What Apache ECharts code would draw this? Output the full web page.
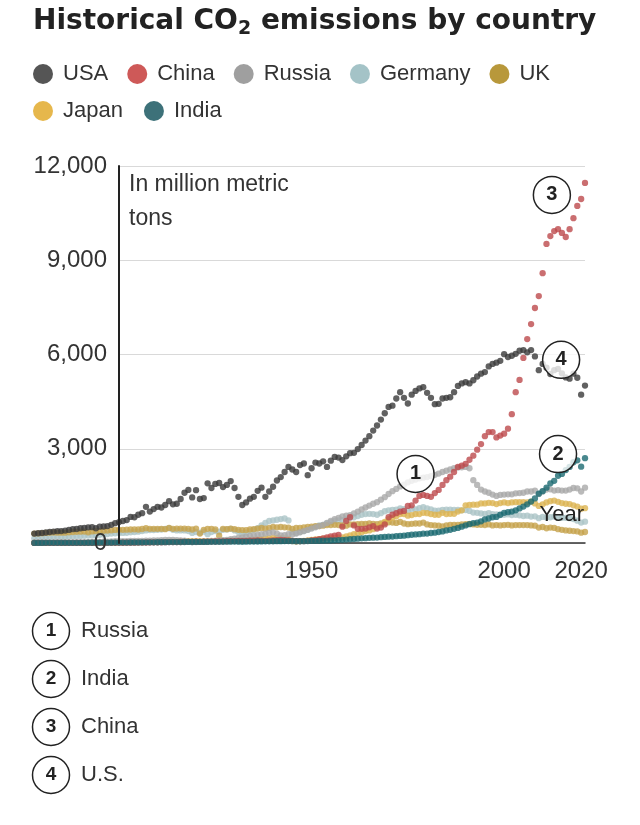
<!DOCTYPE html>
<html><head><meta charset="utf-8">
<script src="https://cdn.jsdelivr.net/npm/echarts@6/dist/echarts.min.js"></script>
<style>html,body{margin:0;padding:0;background:#fff}#c{width:640px;height:825px}</style>
</head><body><div id="c"></div>
<script>
// ---- data (million metric tons), one value per year from START_YEAR to END_YEAR ----
const START_YEAR = 1878;
const END_YEAR = 2021;
const countries = ['USA', 'China', 'Russia', 'Germany', 'UK', 'Japan', 'India'];

const usa = [
  300,310,320,335,350,365,375,380,395,415,440,445,470,480,500,505,470,520,525,540,580,630,
  665,700,730,830,820,900,950,1150,1000,1080,
  1150,1130,1210,1330,1230,1250,1400,1600,1690,1450,
  1680,1400,1430,1900,1750,1880,1910,1780,1850,1970,
  1750,1470,1210,1290,1410,1470,1660,1760,1470,1640,
  1790,1990,2100,2260,2420,2340,2260,2480,2530,2160,
  2380,2560,2530,2600,2420,2620,2740,2720,2640,2760,
  2860,2870,2990,3120,3260,3400,3580,3740,3930,4130,
  4330,4370,4600,4800,4620,4440,4720,4840,4920,4960,
  4780,4620,4420,4430,4600,4620,4640,4800,5000,5080,
  5120,5080,5180,5300,5390,5440,5620,5700,5740,5800,
  6010,5920,5960,6020,6120,6140,6070,6140,5940,5500,
  5700,5580,5380,5500,5540,5400,5270,5230,5390,5260,
  4720,5010
];
const china = [
  1,1,1,1,1,1,2,2,2,2,2,2,3,3,3,3,4,4,4,5,5,6,
  7,8,9,10,11,12,14,16,18,20,
  22,24,26,28,30,30,32,34,36,36,
  40,38,40,42,46,48,50,52,56,60,
  62,64,66,70,72,76,80,78,70,72,
  80,90,96,90,80,70,60,60,60,70,
  80,100,120,150,180,210,230,260,520,700,
  820,560,450,450,460,500,540,460,490,590,
  820,900,950,1000,1020,1180,1200,1350,1500,1530,
  1500,1470,1590,1690,1850,2000,2110,2260,2420,2460,
  2520,2650,2780,2970,3150,3400,3530,3530,3360,3420,
  3480,3640,4100,4800,5190,5890,6490,6970,7480,7860,
  8590,9520,9770,9930,9990,9870,9740,9990,10340,10730,
  10950,11460
];
const russia = [
  10,10,12,12,14,15,16,18,19,20,22,24,26,28,30,32,35,38,42,46,50,55,
  60,62,62,65,68,65,70,75,78,80,
  85,90,95,100,95,90,85,75,40,30,
  30,35,40,50,60,70,80,90,100,120,
  140,160,180,200,220,240,260,280,300,320,
  340,300,240,250,280,270,300,340,380,420,
  460,500,540,580,640,700,760,800,850,870,
  890,940,1000,1070,1130,1190,1250,1300,1380,1460,
  1560,1650,1720,1800,1860,1930,1980,2020,2060,2080,
  2100,2130,2170,2210,2260,2300,2340,2380,2400,2410,
  2420,2380,2000,1850,1700,1640,1600,1540,1500,1530,
  1540,1550,1550,1580,1590,1600,1640,1640,1670,1560,
  1640,1700,1710,1670,1680,1670,1670,1700,1750,1740,
  1640,1760
];
const germany = [
  150,155,160,165,170,175,180,185,190,200,210,215,225,230,235,240,250,260,270,285,300,310,
  320,320,325,340,350,360,380,400,410,410,
  420,430,450,470,420,400,400,400,380,320,
  350,330,360,280,350,380,360,420,430,450,
  400,350,310,330,380,420,470,560,640,700,
  720,740,760,780,720,350,320,350,380,420,
  480,520,560,580,620,660,700,720,730,750,
  800,820,860,900,920,930,920,900,950,1010,
  1040,1050,1060,1100,1080,1020,1090,1070,1110,1140,
  1100,1070,1030,1030,1050,1060,1060,1050,1050,1040,
  1050,1020,970,960,940,930,950,920,910,890,
  900,910,890,900,880,860,870,840,850,790,
  830,810,820,840,800,800,800,790,760,710,
  650,680
];
const uk = [
  300,305,310,320,330,335,330,330,330,340,350,355,360,365,340,370,375,380,390,395,405,415,
  420,420,425,430,435,430,445,470,450,450,
  450,450,440,480,450,460,460,460,450,430,
  460,300,420,450,450,430,230,450,440,460,
  440,420,410,410,430,440,460,480,460,480,
  510,500,510,500,490,450,480,480,500,510,
  520,540,540,550,570,570,580,570,560,550,
  590,590,600,610,610,620,610,600,620,640,
  660,650,640,670,620,600,610,620,620,650,
  590,570,560,550,530,560,580,580,580,590,
  600,610,590,580,580,570,590,560,570,560,
  570,580,560,570,570,570,570,560,550,490,
  510,470,490,480,440,420,400,390,380,370,
  330,350
];
const japan = [
  1,1,1,2,2,2,3,3,4,4,5,5,6,6,7,8,8,9,10,11,12,13,
  15,16,18,20,22,24,26,28,30,30,
  32,35,38,42,44,44,48,55,60,62,
  60,55,60,62,65,68,70,75,78,80,
  78,72,75,85,95,105,115,125,135,150,
  160,160,155,150,130,60,50,60,70,85,
  100,115,125,135,140,145,160,180,180,210,
  240,280,300,340,380,400,440,510,580,670,
  760,800,850,920,920,870,890,920,920,960,
  950,920,900,900,960,920,930,930,1000,1040,
  1200,1210,1220,1220,1260,1260,1280,1270,1240,1270,
  1290,1270,1290,1300,1300,1300,1290,1320,1260,1180,
  1230,1290,1330,1350,1310,1270,1250,1240,1200,1160,
  1090,1110
];
const india = [
  3,3,3,4,4,4,5,5,5,6,6,6,7,7,8,8,9,9,10,10,11,12,
  13,14,15,16,17,18,19,20,22,22,
  24,25,26,28,28,30,30,32,34,32,
  34,33,34,35,36,37,38,40,42,43,
  44,42,40,42,44,46,48,50,52,54,
  56,58,58,60,60,58,56,55,58,60,
  66,70,72,74,76,80,86,94,100,108,
  120,128,138,150,154,166,170,174,186,194,
  200,206,218,226,232,250,262,272,282,296,
  300,318,330,350,370,400,420,450,480,520,
  560,600,630,650,690,750,780,820,830,900,
  960,980,1000,1040,1100,1160,1230,1320,1420,1570,
  1650,1760,1900,1980,2140,2200,2320,2420,2570,2630,
  2430,2700
];

const xTickLabels = [1900, 1950, 2000, 2020];
const yTicks = [0, 3000, 6000, 9000, 12000];
// annotations: [series, number, year, value]
const annotations = [
  ['Russia', '1', 1977, 2200],
  ['India', '2', 2014, 2830],
  ['China', '3', 2012.4, 11080],
  ['USA', '4', 2014.8, 5830]
];
const noteList = [['1', 'Russia'], ['2', 'India'], ['3', 'China'], ['4', 'U.S.']];

// ---- styling ----
const FONT = '"Liberation Sans", Arial, sans-serif';
const seriesValues = [usa, china, russia, germany, uk, japan, india];
const dotColors = ['#3a3a3a', '#bd4a4c', '#a9a9a9', '#abc4c7', '#c6a24c', '#dcb452', '#1c6a72'];
const legendColors = ['#2a2a2a', '#c2302e', '#878787', '#8db4b9', '#a67e0a', '#e0a51f', '#0d4e57'];
const zOrder = [7, 6, 5, 2, 3, 4, 8];

const years = seriesValues[0].map((_, i) => START_YEAR + i);

const chart = echarts.init(document.getElementById('c'), null, {renderer: 'canvas'});

const series = countries.map((name, i) => {
  const s = {
    type: 'scatter', name, xAxisIndex: 1, yAxisIndex: 1,
    data: years.map((y, j) => ({value: [y, seriesValues[i][j]], itemStyle: {color: dotColors[i]}})),
    symbol: 'circle', symbolSize: 6.3,
    itemStyle: {color: legendColors[i]},
    z: zOrder[i], silent: true
  };
  const notes = annotations.filter(a => a[0] === name);
  if (notes.length) {
    s.markPoint = {
      z: 20, silent: true, animation: false,
      symbol: 'circle', symbolSize: 37,
      itemStyle: {color: 'rgba(255,255,255,0.78)', borderColor: '#222', borderWidth: 1.5},
      label: {show: true, position: 'inside', fontSize: 20, fontWeight: 'bold', color: '#222', fontFamily: FONT},
      data: notes.map(a => ({coord: [a[2], a[3]], value: a[1], label: {formatter: a[1]}}))
    };
  }
  return s;
});

const legendBase = {
  icon: 'circle', itemWidth: 20, itemHeight: 20, itemGap: 19, left: 33, padding: 0, selectedMode: false,
  textStyle: {fontSize: 22, color: '#333', fontFamily: FONT, padding: [0, 0, 0, 5], lineHeight: 20}
};

const graphics = [
  {type: 'text', x: 129, y: 168, z: 100, silent: true,
   style: {text: 'In million metric\ntons', font: '23px ' + FONT, lineHeight: 34, fill: '#333'}},
  {type: 'text', x: 584, y: 515, z: 100, silent: true,
   style: {text: 'Year', font: '22px ' + FONT, fill: '#222', align: 'right', verticalAlign: 'middle'}}
];
noteList.forEach((n, k) => {
  const cy = 631 + k * 48;
  graphics.push({type: 'circle', z: 100, silent: true, shape: {cx: 51, cy, r: 18.5},
    style: {fill: '#fff', stroke: '#222', lineWidth: 1.5}});
  graphics.push({type: 'text', z: 101, silent: true, x: 51, y: cy,
    style: {text: n[0], font: 'bold 19px ' + FONT, fill: '#222', align: 'center', verticalAlign: 'middle'}});
  graphics.push({type: 'text', z: 101, silent: true, x: 81, y: cy,
    style: {text: n[1], font: '22px ' + FONT, fill: '#333', align: 'left', verticalAlign: 'middle'}});
});

const yScale = {type: 'value', min: yTicks[0], max: yTicks[yTicks.length - 1], interval: yTicks[1] - yTicks[0]};

chart.setOption({
  animation: false,
  backgroundColor: '#fff',
  title: {
    text: '{t|Historical CO}{s|2}{t| emissions by country}',
    left: 33, top: 5, padding: 0,
    textStyle: {
      rich: {
        t: {fontSize: 28, fontWeight: 'bold', fontFamily: '"DejaVu Sans", sans-serif', color: '#222', lineHeight: 34},
        s: {fontSize: 19, fontWeight: 'bold', fontFamily: '"DejaVu Sans", sans-serif', color: '#222', lineHeight: 19, verticalAlign: 'bottom'}
      }
    }
  },
  legend: [
    Object.assign({}, legendBase, {top: 63, data: ['USA', 'China', 'Russia', 'Germany', 'UK']}),
    Object.assign({}, legendBase, {top: 100, itemGap: 21, data: ['Japan', 'India']})
  ],
  grid: [
    {left: 119, right: 55, top: 166, bottom: 282, outerBoundsMode: 'none', containLabel: false},
    {left: 34.3, right: 55, top: 166, bottom: 282, outerBoundsMode: 'none', containLabel: false}
  ],
  xAxis: [
    {gridIndex: 0, type: 'value', min: 1900, max: END_YEAR,
     axisLine: {show: true, onZero: false, lineStyle: {color: '#333', width: 1.5}},
     axisTick: {show: false}, splitLine: {show: false},
     axisLabel: {customValues: xTickLabels, formatter: v => String(v), fontSize: 24, color: '#333', fontFamily: FONT, margin: 16}},
    {gridIndex: 1, type: 'value', min: START_YEAR, max: END_YEAR, show: false}
  ],
  yAxis: [
    Object.assign({gridIndex: 0, position: 'left', z: 0,
     axisLine: {show: false}, axisTick: {show: false}, axisLabel: {show: false},
     splitLine: {show: true, lineStyle: {color: '#d9d9d9', width: 1}}}, yScale),
    Object.assign({gridIndex: 1, position: 'left', show: false}, yScale),
    Object.assign({gridIndex: 0, position: 'left', z: 30,
     axisLine: {show: true, lineStyle: {color: '#222', width: 2}},
     axisTick: {show: false}, splitLine: {show: false},
     axisLabel: {fontSize: 24, color: '#333', fontFamily: FONT, margin: 12}}, yScale)
  ],
  graphic: graphics,
  series
});
</script>
</body></html>
